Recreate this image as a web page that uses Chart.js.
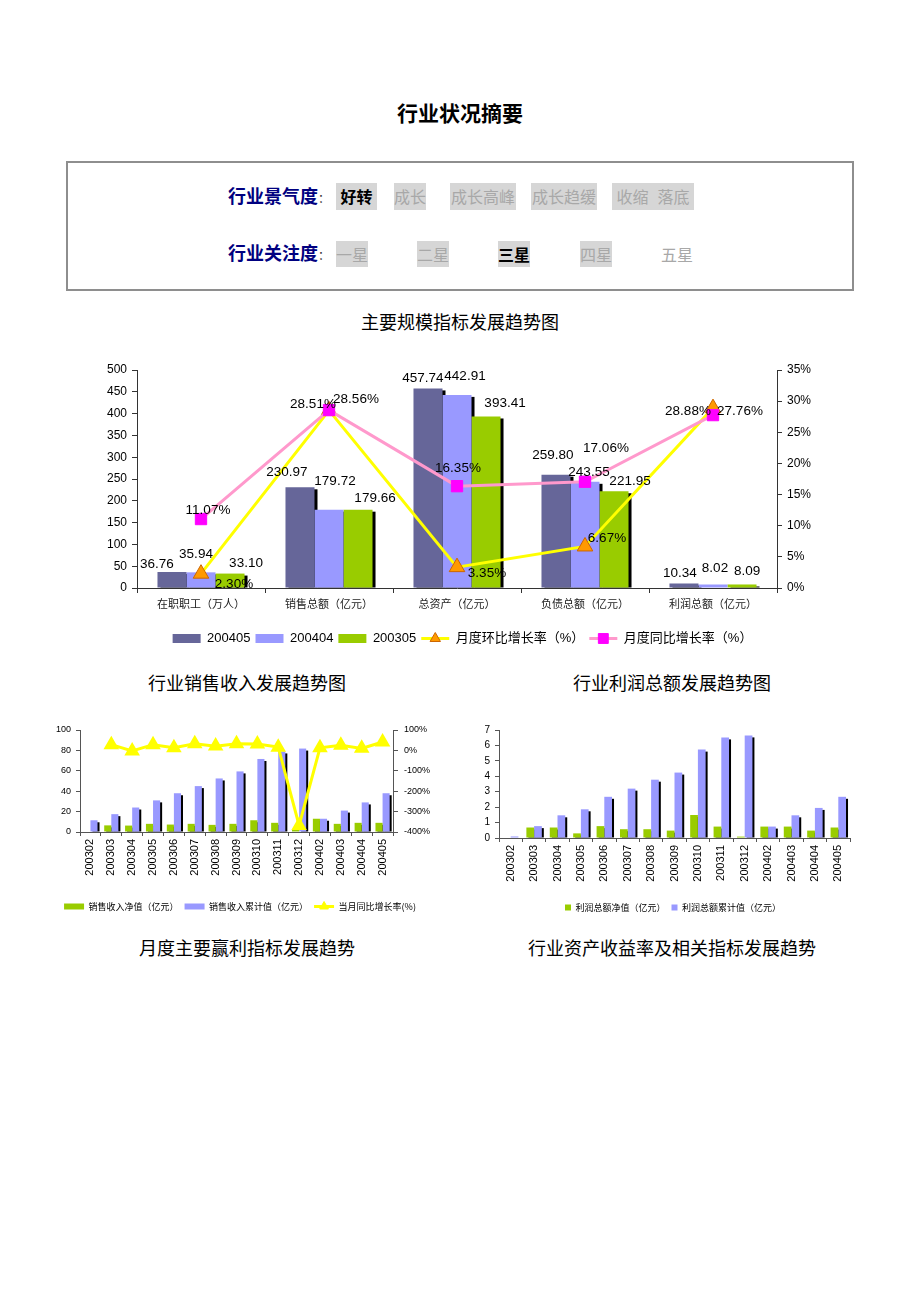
<!DOCTYPE html>
<html lang="zh">
<head>
<meta charset="utf-8">
<title>行业状况摘要</title>
<script src="https://cdn.jsdelivr.net/npm/chart.js@4.4.1/dist/chart.umd.min.js"></script>
<style>
  body { margin: 0; background: #fff; font-family: "Noto Sans CJK SC", sans-serif; }
  #page { position: relative; width: 920px; height: 1302px; }
  .t { position: absolute; white-space: nowrap; }
  .head { left: 0; width: 920px; text-align: center; font-size: 18px; line-height: 24px; color: #000; }
  .lbl { font-size: 18px; font-weight: bold; color: #000080; line-height: 27px; }
  .lbl span { font-weight: normal; font-size: 12px; color: #333; }
  .tag { height: 27px; line-height: 27px; text-align: center; font-size: 16px; color: #a8a8a8; background: #d6d6d6; }
  .tag.on { color: #000; font-weight: bold; }
  .tag.off { background: none; }
  canvas { position: absolute; }
</style>
</head>
<body>
<div id="page">
  <div class="t head" style="top:99px;font-size:21px;line-height:26px;font-weight:bold;">行业状况摘要</div>
  <div class="t" style="left:66px;top:161px;width:784px;height:126px;border:2px solid #8e8e8e;"></div>

  <div class="t lbl" style="left:228px;top:182px;">行业景气度<span>：</span></div>
  <div class="t tag on" style="left:336px;top:183px;width:41px;">好转</div>
  <div class="t tag" style="left:394px;top:183px;width:32px;">成长</div>
  <div class="t tag" style="left:450px;top:183px;width:66px;">成长高峰</div>
  <div class="t tag" style="left:531px;top:183px;width:66px;">成长趋缓</div>
  <div class="t tag" style="left:612px;top:183px;width:41px;">收缩</div>
  <div class="t tag" style="left:653px;top:183px;width:41px;">落底</div>

  <div class="t lbl" style="left:228px;top:239px;">行业关注度<span>：</span></div>
  <div class="t tag" style="left:336px;top:241px;width:32px;height:26px;line-height:26px;">一星</div>
  <div class="t tag" style="left:417px;top:241px;width:32px;height:26px;line-height:26px;">二星</div>
  <div class="t tag on" style="left:498px;top:241px;width:32px;height:26px;line-height:26px;">三星</div>
  <div class="t tag" style="left:580px;top:241px;width:32px;height:26px;line-height:26px;">四星</div>
  <div class="t tag off" style="left:661px;top:241px;width:32px;height:26px;line-height:26px;">五星</div>

  <div class="t head" style="top:309px;">主要规模指标发展趋势图</div>
  <canvas id="mainChart" width="735" height="300" style="left:95px;top:355px;"></canvas>

  <div class="t head" style="top:670px;left:47px;width:400px;">行业销售收入发展趋势图</div>
  <div class="t head" style="top:670px;left:472px;width:400px;">行业利润总额发展趋势图</div>
  <canvas id="salesChart" width="400" height="206" style="left:40px;top:715px;"></canvas>
  <canvas id="profitChart" width="400" height="207" style="left:460px;top:715px;"></canvas>

  <div class="t head" style="top:935px;left:47px;width:400px;">月度主要赢利指标发展趋势</div>
  <div class="t head" style="top:935px;left:472px;width:400px;">行业资产收益率及相关指标发展趋势</div>
</div>

<script>
// 主要规模指标
const mainCats = ['在职职工（万人）', '销售总额（亿元）', '总资产（亿元）', '负债总额（亿元）', '利润总额（亿元）'];
const v200405 = [36.76, 230.97, 457.74, 259.80, 10.34];
const v200404 = [35.94, 179.72, 442.91, 243.55, 8.02];
const v200305 = [33.10, 179.66, 393.41, 221.95, 8.09];
const momRate = [2.30, 28.51, 3.35, 6.67, 28.88];   // 月度环比增长率
const yoyRate = [11.07, 28.56, 16.35, 17.06, 27.76]; // 月度同比增长率
const mainTicksLeft = [0, 500, 50];
const mainTicksRight = [0, 35, 5];

// 月份
const months = ['200302', '200303', '200304', '200305', '200306', '200307', '200308', '200309',
                '200310', '200311', '200312', '200402', '200403', '200404', '200405'];
// 销售收入
const salesNet = [null, 6.5, 6.3, 8, 7.3, 8, 7, 8, 11.5, 9, 2, 13, 8, 9, 9];
const salesCum = [11.5, 17.5, 24, 31, 38, 45, 52.5, 59.4, 71.6, 79, 81.8, 13, 21, 29, 38];
const salesYoy = [null, 28, -3, 28, 13, 33, 21, 33, 31, 16, -368, 13, 25, 10, 41];
// 利润总额
const profitNet = [null, 0.68, 0.68, 0.3, 0.77, 0.57, 0.57, 0.48, 1.49, 0.74, 0.09, 0.74, 0.74, 0.48, 0.68];
const profitCum = [0.1, 0.77, 1.47, 1.86, 2.67, 3.2, 3.78, 4.24, 5.73, 6.52, 6.65, 0.74, 1.47, 1.95, 2.67];

Chart.defaults.font.family = '"Liberation Sans", "Noto Sans CJK SC", sans-serif';
Chart.defaults.color = '#000';
Chart.defaults.animation = false;
Chart.defaults.responsive = false;
Chart.defaults.devicePixelRatio = 1;
Chart.defaults.plugins.tooltip.enabled = false;

const cjk = '"Noto Sans CJK SC", sans-serif';

// black drop shadow behind bars
const shadowPlugin = {
  id: 'barShadow',
  beforeDatasetsDraw(chart) {
    const ctx = chart.ctx, a = chart.chartArea;
    ctx.save();
    ctx.beginPath();
    ctx.rect(a.left, a.top - 30, a.right - a.left + 10, a.bottom - a.top + 30);
    ctx.clip();
    ctx.fillStyle = '#000';
    chart.data.datasets.forEach((ds, i) => {
      if (!ds.shadow) return;
      chart.getDatasetMeta(i).data.forEach(el => {
        if (isNaN(el.y) || el.base - el.y < 3) return;
        ctx.fillRect(el.x - el.width / 2 + ds.shadow, el.y + 2, el.width, el.base - el.y - 2);
      });
    });
    ctx.restore();
  }
};

// value labels
const labelPlugin = {
  id: 'valueLabels',
  afterDatasetsDraw(chart) {
    const ctx = chart.ctx;
    ctx.save();
    ctx.font = '13.5px "Liberation Sans", sans-serif';
    ctx.fillStyle = '#000';
    ctx.textAlign = 'center';
    ctx.textBaseline = 'middle';
    chart.data.datasets.forEach((ds, i) => {
      if (!ds.labelOffsets) return;
      chart.getDatasetMeta(i).data.forEach((el, j) => {
        const v = ds.data[j];
        if (v == null) return;
        const [dx, dy] = ds.labelOffsets[j];
        ctx.fillText(v.toFixed(2) + (ds.labelSuffix || ''), el.x + dx, el.y + dy);
      });
    });
    ctx.restore();
  }
};

// line + marker in legend for line datasets
const legendLinePlugin = {
  id: 'legendLine',
  afterDraw(chart) {
    const lg = chart.legend;
    if (!lg || !lg.legendHitBoxes) return;
    const ctx = chart.ctx, bw = lg.options.labels.boxWidth;
    lg.legendItems.forEach((it, i) => {
      const ds = chart.data.datasets[it.datasetIndex];
      if (ds.type !== 'line') return;
      const hb = lg.legendHitBoxes[i];
      const y = hb.top + hb.height / 2;
      ctx.save();
      ctx.strokeStyle = ds.borderColor;
      ctx.lineWidth = ds.borderWidth;
      ctx.beginPath();
      ctx.moveTo(hb.left, y);
      ctx.lineTo(hb.left + bw, y);
      ctx.stroke();
      ctx.fillStyle = ds.pointBackgroundColor;
      ctx.strokeStyle = ds.pointBorderColor;
      ctx.lineWidth = 1;
      Chart.helpers.drawPoint(ctx, { pointStyle: ds.pointStyle, radius: ds.legendRadius, rotation: 0, borderWidth: 1 }, hb.left + bw / 2, y);
      ctx.restore();
    });
  }
};

// nudge the legend sideways
const legendShiftPlugin = {
  id: 'legendShift',
  afterLayout(chart, args, opts) {
    if (chart.legend && opts.dx) {
      chart.legend.left += opts.dx;
      chart.legend.right += opts.dx;
    }
  }
};

function legendItems(chart) {
  const items = Chart.defaults.plugins.legend.labels.generateLabels(chart);
  items.forEach(it => {
    if (chart.data.datasets[it.datasetIndex].type === 'line') {
      it.fillStyle = 'rgba(0,0,0,0)';
      it.strokeStyle = 'rgba(0,0,0,0)';
      it.lineWidth = 0;
    }
  });
  return items.sort((a, b) => a.datasetIndex - b.datasetIndex);
}

const fixW = w => scale => { scale.width = w; };
const fixH = h => scale => { scale.height = h; };

new Chart(document.getElementById('mainChart'), {
  type: 'bar',
  data: {
    labels: mainCats,
    datasets: [
      { label: '200405', data: v200405, backgroundColor: '#666699', yAxisID: 'y', order: 2, shadow: 3,
        categoryPercentage: 0.68, barPercentage: 1,
        labelOffsets: [[-15, -8], [-13, -15], [-5, -10], [-3, -19], [-4, -10]] },
      { label: '200404', data: v200404, backgroundColor: '#9999FF', yAxisID: 'y', order: 2, shadow: 3,
        categoryPercentage: 0.68, barPercentage: 1,
        labelOffsets: [[-5, -18], [6, -28], [8, -19], [4, -10], [2, -16]] },
      { label: '200305', data: v200305, backgroundColor: '#99CC00', yAxisID: 'y', order: 2, shadow: 3,
        categoryPercentage: 0.68, barPercentage: 1,
        labelOffsets: [[16, -10], [17, -11], [19, -13], [16, -10], [5, -13]] },
      { type: 'line', label: '月度环比增长率（%）', data: momRate, yAxisID: 'y1', order: 1,
        borderColor: '#FFFF00', borderWidth: 3, pointStyle: 'triangle', pointRadius: 9, legendRadius: 6,
        pointBackgroundColor: '#FF9900', pointBorderColor: '#CC6600', pointBorderWidth: 1,
        labelSuffix: '%', labelOffsets: [[33, 11], [-16, -6], [30, 6], [22, -8], [-25, 3]] },
      { type: 'line', label: '月度同比增长率（%）', data: yoyRate, yAxisID: 'y1', order: 0,
        borderColor: '#FF99CC', borderWidth: 3, pointStyle: 'rect', pointRadius: 8, legendRadius: 7,
        pointBackgroundColor: '#FF00FF', pointBorderColor: '#FF00FF', pointBorderWidth: 1,
        labelSuffix: '%', labelOffsets: [[7, -9], [27, -11], [1, -18], [21, -33], [27, -4]] }
    ]
  },
  options: {
    layout: { padding: { top: 15, bottom: 0, left: 0, right: 0 } },
    plugins: {
      legend: {
        position: 'bottom',
        labels: { boxWidth: 28, boxHeight: 9, padding: 5, font: { size: 13 }, generateLabels: legendItems }
      }
    },
    scales: {
      x: {
        afterFit: fixH(39),
        grid: { display: true, drawOnChartArea: false, tickLength: 5, color: '#333', offset: true },
        border: { color: '#333' },
        ticks: { font: { family: cjk, size: 11 }, color: '#222', padding: 4 }
      },
      y: {
        position: 'left', min: mainTicksLeft[0], max: mainTicksLeft[1], afterFit: fixW(42),
        grid: { drawOnChartArea: false, tickLength: 5, color: '#333' },
        border: { color: '#333' },
        ticks: { stepSize: mainTicksLeft[2], font: { size: 12 }, padding: 5 }
      },
      y1: {
        position: 'right', min: mainTicksRight[0], max: mainTicksRight[1], afterFit: fixW(53),
        grid: { drawOnChartArea: false, tickLength: 5, color: '#333' },
        border: { color: '#333' },
        ticks: { stepSize: mainTicksRight[2], font: { size: 12 }, padding: 5, callback: v => v + '%' }
      }
    }
  },
  plugins: [shadowPlugin, labelPlugin, legendLinePlugin]
});

new Chart(document.getElementById('salesChart'), {
  type: 'bar',
  data: {
    labels: months,
    datasets: [
      { label: '销售收入净值（亿元）', data: salesNet, backgroundColor: '#99CC00', order: 1, shadow: 2,
        categoryPercentage: 0.68, barPercentage: 1 },
      { label: '销售收入累计值（亿元）', data: salesCum, backgroundColor: '#9999FF', order: 1, shadow: 2,
        categoryPercentage: 0.68, barPercentage: 1 },
      { type: 'line', label: '当月同比增长率(%)', data: salesYoy, yAxisID: 'y1', order: 0,
        borderColor: '#FFFF00', borderWidth: 3, pointStyle: 'triangle', pointRadius: 6, legendRadius: 5,
        pointBackgroundColor: '#FFFF00', pointBorderColor: '#FFFF00' }
    ]
  },
  options: {
    layout: { padding: { top: 15, bottom: 0 } },
    plugins: {
      legend: {
        position: 'bottom',
        labels: { boxWidth: 20, boxHeight: 6, padding: 6, font: { family: cjk, size: 9 }, generateLabels: legendItems }
      }
    },
    scales: {
      x: {
        afterFit: fixH(64),
        grid: { drawOnChartArea: false, tickLength: 4, color: '#555', offset: true },
        border: { color: '#555' },
        ticks: { font: { size: 11 }, minRotation: 90, maxRotation: 90, padding: 3, autoSkip: false }
      },
      y: {
        min: 0, max: 100, afterFit: fixW(40),
        grid: { drawOnChartArea: false, tickLength: 4, color: '#555' },
        border: { color: '#555' },
        ticks: { stepSize: 20, font: { size: 9 }, padding: 5, autoSkip: false }
      },
      y1: {
        position: 'right', min: -400, max: 100, afterFit: fixW(47),
        grid: { drawOnChartArea: false, tickLength: 5, color: '#555' },
        border: { color: '#555' },
        ticks: { stepSize: 100, font: { size: 9 }, padding: 6, autoSkip: false, callback: v => v + '%' }
      }
    }
  },
  plugins: [shadowPlugin, legendLinePlugin]
});

new Chart(document.getElementById('profitChart'), {
  type: 'bar',
  data: {
    labels: months,
    datasets: [
      { label: '利润总额净值（亿元）', data: profitNet, backgroundColor: '#99CC00', shadow: 2,
        categoryPercentage: 0.66, barPercentage: 1 },
      { label: '利润总额累计值（亿元）', data: profitCum, backgroundColor: '#9999FF', shadow: 2,
        categoryPercentage: 0.66, barPercentage: 1 }
    ]
  },
  options: {
    layout: { padding: { top: 15, right: 10, bottom: 0, left: 0 } },
    plugins: {
      legend: {
        position: 'bottom',
        labels: { boxWidth: 6, boxHeight: 6, padding: 6, font: { family: cjk, size: 9 } }
      },
      legendShift: { dx: 18 }
    },
    scales: {
      x: {
        afterFit: fixH(59),
        grid: { drawOnChartArea: false, tickLength: 4, color: '#555', offset: true },
        border: { color: '#555' },
        ticks: { font: { size: 11 }, minRotation: 90, maxRotation: 90, padding: 3, autoSkip: false }
      },
      y: {
        min: 0, max: 7, afterFit: fixW(39),
        grid: { drawOnChartArea: false, tickLength: 4, color: '#555' },
        border: { color: '#555' },
        ticks: { stepSize: 1, font: { size: 10 }, padding: 5, autoSkip: false }
      }
    }
  },
  plugins: [shadowPlugin, legendShiftPlugin]
});
</script>
</body>
</html>
